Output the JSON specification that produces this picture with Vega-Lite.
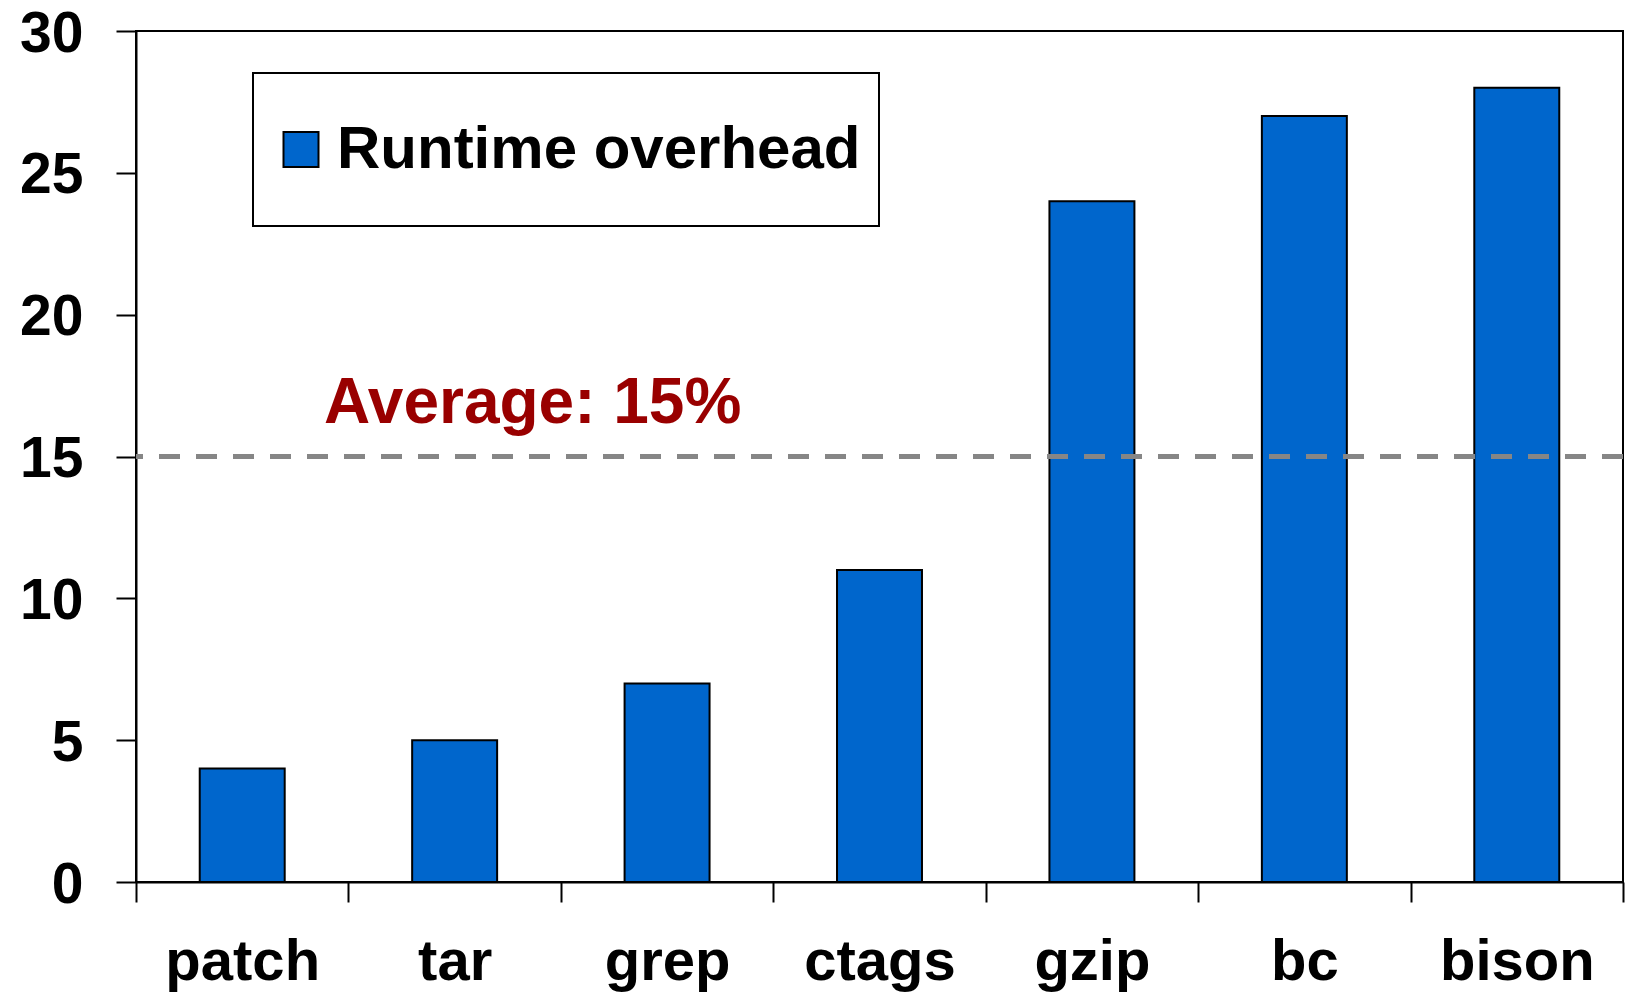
{
  "$schema": "https://vega.github.io/schema/vega-lite/v6.json",
  "width": 1487,
  "height": 851,
  "autosize": {"type": "none"},
  "padding": {"left": 136, "top": 31, "right": 10, "bottom": 117},
  "background": "white",
  "config": {
    "view": {"stroke": "black", "strokeWidth": 2},
    "font": "Liberation Sans"
  },
  "datasets": {
    "bars": [
      {"program": "patch", "overhead": 4, "series": "Runtime overhead"},
      {"program": "tar", "overhead": 5, "series": "Runtime overhead"},
      {"program": "grep", "overhead": 7, "series": "Runtime overhead"},
      {"program": "ctags", "overhead": 11, "series": "Runtime overhead"},
      {"program": "gzip", "overhead": 24, "series": "Runtime overhead"},
      {"program": "bc", "overhead": 27, "series": "Runtime overhead"},
      {"program": "bison", "overhead": 28, "series": "Runtime overhead"}
    ],
    "avg": [{"average": 15, "label": "Average: 15%"}]
  },
  "layer": [
    {
      "data": {"name": "bars"},
      "mark": {"type": "bar", "width": {"band": 0.4}, "stroke": "black", "strokeWidth": 2},
      "encoding": {
        "x": {
          "field": "program",
          "type": "nominal",
          "sort": null,
          "scale": {"paddingInner": 0, "paddingOuter": 0},
          "axis": {
            "title": null,
            "labelAngle": 0,
            "tickBand": "extent",
            "tickSize": 20,
            "tickWidth": 2,
            "tickColor": "black",
            "domainColor": "black",
            "domainWidth": 2,
            "labelFont": "Liberation Sans",
            "labelFontSize": 58,
            "labelFontWeight": "bold",
            "labelColor": "black",
            "labelBaseline": "alphabetic",
            "labelPadding": 77
          }
        },
        "y": {
          "field": "overhead",
          "type": "quantitative",
          "scale": {"domain": [0, 30], "nice": false},
          "axis": {
            "title": null,
            "values": [0, 5, 10, 15, 20, 25, 30],
            "grid": false,
            "tickSize": 20,
            "tickWidth": 2,
            "tickColor": "black",
            "domainColor": "black",
            "domainWidth": 2,
            "labelFont": "Liberation Sans",
            "labelFontSize": 57,
            "labelFontWeight": "bold",
            "labelColor": "black",
            "labelPadding": 33,
            "labelOffset": 3
          }
        },
        "color": {
          "field": "series",
          "type": "nominal",
          "scale": {"range": ["#0066CC"]},
          "legend": {
            "title": null,
            "orient": "none",
            "legendX": 117,
            "legendY": 42,
            "strokeColor": "black",
            "fillColor": "white",
            "padding": 18,
            "symbolType": "square",
            "symbolSize": 1225,
            "symbolStrokeColor": "black",
            "symbolStrokeWidth": 2,
            "symbolOpacity": 1,
            "labelFont": "Liberation Sans",
            "labelFontSize": 60,
            "labelFontWeight": "bold",
            "labelColor": "black",
            "labelOffset": 6,
            "labelLimit": 0,
            "clipHeight": 117,
            "encode": {"legend": {"update": {"strokeWidth": {"value": 2}}}}
          }
        }
      }
    },
    {
      "data": {"name": "avg"},
      "mark": {"type": "rule", "color": "#868686", "strokeWidth": 5, "strokeDash": [21, 16]},
      "encoding": {
        "y": {"field": "average", "type": "quantitative"}
      }
    },
    {
      "data": {"name": "avg"},
      "mark": {"type": "text", "color": "#990000", "font": "Liberation Sans", "fontSize": 64, "fontWeight": "bold", "align": "center", "baseline": "alphabetic", "dx": 78, "dy": -34},
      "encoding": {
        "x": {"datum": "tar", "type": "nominal"},
        "y": {"field": "average", "type": "quantitative"},
        "text": {"field": "label"}
      }
    }
  ]
}
